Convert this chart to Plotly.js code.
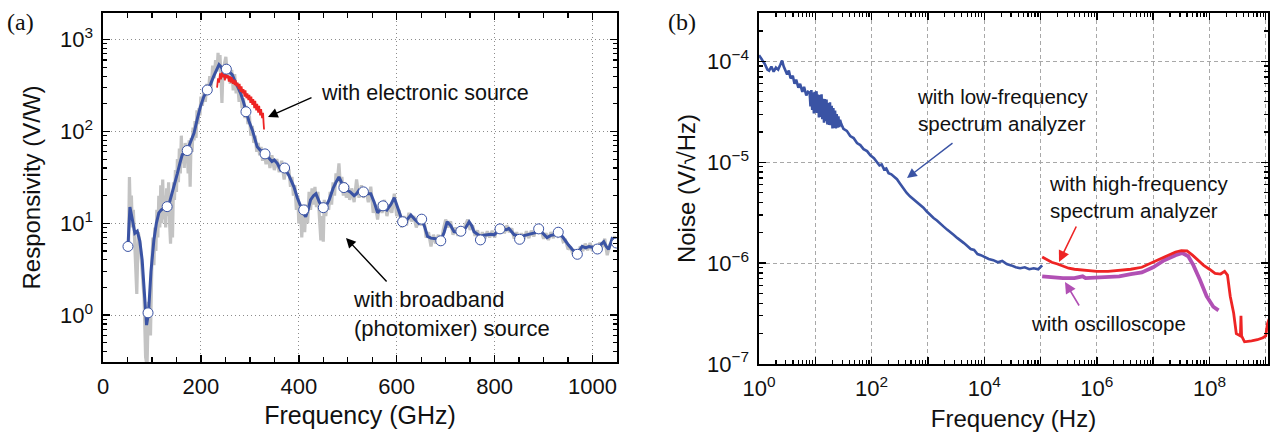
<!DOCTYPE html>
<html>
<head>
<meta charset="utf-8">
<script src="https://cdn.plot.ly/plotly-3.0.1.min.js"></script>
<style>html,body{margin:0;padding:0;background:#fff;}#chart{width:1274px;height:432px;}</style>
</head>
<body>
<div id="chart"></div>
<script>
// ---------- Panel (a): responsivity vs frequency ----------
const rawFreq = [50,52,54,56,58,60,62,65,69,72,76,80,84,87,89,90,91,93,95,97,100,102,104,106,108,110,112,114,116,118,120,122,124,126,128,130,132,134,136,138,140,142,144,146,148,150,152,154,156,158,160,162,164,166,168,170,172,174,176,178,180,182,184,186,188,190,192,194,196,198,200,203,206,209,212,215,218,221,224,227,230,233,235,237,239,241,243,245,248,251,254,257,260,263,266,269,272,275,278,281,284,287,290,293,296,299,302,305,308,311,314,317,320,323,326,329,333,337,341,345,350,355,360,365,370,375,380,383,386,389,392,395,398,400,403,406,409,412,415,418,421,424,427,430,433,436,439,442,445,448,450,452,455,458,461,464,467,470,473,476,479,482,485,488,491,494,497,500,504,508,513,518,523,528,532,537,542,547,552,556,561,565,570,575,580,585,590,595,600,605,610,615,620,625,630,635,640,645,650,655,660,665,670,675,680,685,690,695,700,705,710,715,720,725,730,735,740,745,750,755,760,765,770,775,780,785,790,795,800,805,810,815,820,825,830,835,840,845,850,855,860,865,870,875,880,885,890,895,900,905,910,915,920,925,930,935,940,945,950,955,960,965,970,975,980,985,990,995,1000,1005,1010,1015,1020,1025,1030,1035,1040,1045,1050];
const rawResp = [5.5,5,32,12,20,9,14,6,1.7,8,6,3,1.5,0.35,0.3,0.28,0.5,1.4,1.2,0.6,4,7,3.5,9,5,14,7,20,9,26,10,30,11,20,9,24,12,28,10,6,18,7,28,18,38,22,50,28,65,35,90,45,70,40,75,50,60,35,80,25,85,60,110,80,130,85,170,120,180,150,240,190,280,210,330,250,400,300,520,380,600,450,720,500,680,430,205,450,560,650,400,520,330,470,280,420,260,330,210,290,180,230,140,190,120,150,90,115,75,90,60,75,55,68,48,62,44,58,40,55,38,50,36,48,30,42,38,25,32,20,26,14,20,10,16,7,14,8,16,10,22,14,24,16,25,15,22,10,6.5,12,6.3,18,12,17,14,22,16,28,20,35,30,45,25,32,20,28,19,26,18,24,17,30,19,26,19,24,17,25,13,16,11,17,13,18,12,16,13,21,12,14,9,12,9.5,13,10.5,12,9,11,9.5,12,7,8,5.6,7.5,6,7.5,5.8,8.5,11,9,10.5,7.5,9,7.3,9,7.5,9.5,11,8.5,9.5,7.3,8.4,6.5,8,6.8,8.2,7,8.3,7,8.7,8,9.5,7.8,9.5,8,8.8,6.8,8,6.7,7.8,6.7,8.2,6.9,8.3,7.2,8.6,8,8.4,6.8,7.8,6.6,8,6.9,8.4,7.3,7.8,6.3,6.5,5.2,5.6,4.6,5.2,4.2,5.6,5,6,5.1,6.1,5,5.8,4.7,6.2,5.5,6.8,4.5,5.8,6.3,7.2,6];

const smoothFreq = [51,55,60,65,70,75,80,85,89,93,98,104,109,114,119,124,131,136,141,146,152,157,162,167,172,178,186,193,199,206,213,220,226,232,237,242,246,252,258,264,270,276,281,287,292,298,305,310,315,322,331,338,345,350,356,363,371,380,390,397,404,409,414,419,424,430,435,442,450,456,462,470,476,482,487,492,498,505,513,518,523,532,540,547,554,561,567,572,580,588,595,603,612,620,629,637,645,651,657,663,670,680,690,697,703,710,717,724,731,740,748,753,758,765,771,778,785,792,799,805,811,818,824,829,835,840,846,851,858,867,875,883,890,898,907,915,922,930,940,951,960,969,975,979,986,993,1000,1010,1016,1023,1028,1033,1040,1045,1049];
const smoothResp = [5.6,15,11,7.8,8.2,6.5,4.0,1.8,0.78,1.06,3.0,6.6,10,13,14,14.5,15.2,17,21,27,35,45,56,58,62,75,96,140,186,240,283,330,398,480,535,500,450,477,440,415,350,300,262,210,164,130,104,82,68,62,57,52,47,49,45,38,40,33,25,19,15,13,11.8,14,18,20,21,17,14.8,15.5,18,24,28,32,28,24.5,23,22,20,21,23,22,21,21,17,13,14.5,15.5,14,16,19,14,10.4,10.8,12.3,11,10,11.1,9.2,7.2,6.9,6.8,6.45,8,10.4,9.5,8.1,8.0,8.2,8.8,10.4,9.5,8.1,7.6,7.2,7.4,7.5,7.6,7.5,8.0,8.7,8.6,8.5,8.8,8.0,7.5,7.4,7.2,7.3,7.5,7.6,7.9,8.7,7.8,7.0,7.4,7.5,8.0,7.0,5.8,5.1,4.7,5.2,5.6,5.4,5.6,5.5,5.25,5.8,6.3,5.6,5.2,6.8,6.6,6.1];

const markerFreq = [51,92,131,172,213,252,292,331,371,410,450,492,532,572,612,651,690,731,771,811,851,890,930,969,1010,1049];
const markerResp = [5.6,1.06,15.2,62,283,477,164,57,40,14,14.8,24.5,22,15.5,10.4,11.1,6.45,8.2,6.6,8.7,6.7,8.7,8.0,4.6,5.25,6.1];

const elecFreq = [233,235,237,239,241,243,245,247,249,251,253,255,257,259,261,263,265,267,269,271,273,275,277,279,281,283,285,287,289,291,293,295,297,299,301,303,305,307,309,311,313,315,317,319,321,323,325,327,328,329];
const elecResp = [300,380,340,430,370,440,390,420,360,430,380,410,350,400,340,390,330,370,320,360,310,340,290,330,270,310,260,290,240,280,230,260,220,250,205,240,195,225,180,215,170,200,160,190,150,175,140,160,125,105];

const aXTickVals = [0,200,400,600,800,1000];
const aXTickText = ['0','200','400','600','800','1000'];
const aYTickVals = [1,10,100,1000];
const aYTickText = ['10<sup>0</sup>','10<sup>1</sup>','10<sup>2</sup>','10<sup>3</sup>'];

// ---------- Panel (b): noise spectrum ----------
const lfFreq = [1,1.12,1.26,1.41,1.51,1.66,1.82,2.0,2.19,2.4,2.57,2.75,2.95,3.16,3.39,3.63,3.98,4.27,4.57,5.0,5.37,5.89,6.31,6.92,7.41,7.94,8.22,8.51,8.81,9.12,9.44,9.77,10.1,10.5,10.8,11.2,11.6,12.0,12.4,12.9,13.3,13.8,14.3,14.8,15.3,15.8,16.4,17.0,17.6,18.2,18.8,19.5,20.2,20.9,21.6,22.4,23.2,24.0,24.8,25.7,26.6,27.5,28.8,31.6,36.3,41.7,47.9,55,63,72,83,95,110,126,138,151,166,182,200,224,251,282,316,363,417,479,550,631,724,832,955,1096,1259,1445,1660,1905,2188,2512,2884,3311,3802,4365,5012,5754,6607,7586,8710,10000,12000,14500,17400,20900,25100,30200,36300,43600,52500,63100,75900,91200,100000,107000];
const lfNoise = [1.15e-4,1.05e-4,9.5e-5,8.3e-5,8.1e-5,8.9e-5,7.9e-5,8.7e-5,8.3e-5,9.3e-5,1.02e-4,8.9e-5,7.9e-5,7.4e-5,8.1e-5,6.8e-5,7.2e-5,6.0e-5,6.6e-5,5.5e-5,6.0e-5,5.0e-5,5.6e-5,4.6e-5,5.0e-5,4.9e-5,3.57e-5,5.2e-5,3.3e-5,4.9e-5,3.05e-5,5.0e-5,3.1e-5,5.07e-5,3.08e-5,4.69e-5,2.78e-5,4.65e-5,2.82e-5,4.71e-5,2.67e-5,4.27e-5,2.47e-5,4.23e-5,2.56e-5,4.19e-5,2.37e-5,3.87e-5,2.35e-5,3.93e-5,2.33e-5,3.64e-5,2.16e-5,3.44e-5,2.19e-5,3.26e-5,2.17e-5,3.01e-5,2.2e-5,2.85e-5,2.23e-5,2.64e-5,2.41e-5,2.15e-5,2.05e-5,1.82e-5,1.74e-5,1.55e-5,1.48e-5,1.35e-5,1.29e-5,1.17e-5,1.10e-5,1.0e-5,9.3e-6,9.5e-6,8.5e-6,8.7e-6,7.8e-6,7.6e-6,7.2e-6,6.8e-6,6.2e-6,5.5e-6,5.0e-6,4.6e-6,4.3e-6,4.1e-6,3.8e-6,3.55e-6,3.25e-6,3.0e-6,2.8e-6,2.65e-6,2.45e-6,2.3e-6,2.15e-6,2.0e-6,1.9e-6,1.78e-6,1.66e-6,1.58e-6,1.48e-6,1.38e-6,1.35e-6,1.23e-6,1.2e-6,1.15e-6,1.10e-6,1.07e-6,1.02e-6,1.05e-6,9.8e-7,9.5e-7,9.1e-7,8.9e-7,9.1e-7,8.7e-7,8.9e-7,8.7e-7,9.1e-7,9.5e-7];

const hfFreq = [1.07e5,1.26e5,1.58e5,2.0e5,2.5e5,3.16e5,4.0e5,6.3e5,1e6,1.58e6,2.5e6,4.0e6,6.3e6,1e7,1.58e7,2.5e7,3.16e7,4.0e7,5.0e7,6.3e7,7.9e7,1e8,1.26e8,1.58e8,1.86e8,2.09e8,2.34e8,2.69e8,3.0e8,3.55e8,3.63e8,3.72e8,4.2e8,5.6e8,7.1e8,8.9e8,1.0e9,1.07e9,1.15e9];
const hfNoise = [1.15e-6,1.10e-6,1.02e-6,9.8e-7,9.3e-7,8.9e-7,8.7e-7,8.5e-7,8.3e-7,8.3e-7,8.5e-7,8.7e-7,9.1e-7,1.02e-6,1.15e-6,1.29e-6,1.33e-6,1.32e-6,1.20e-6,1.07e-6,9.5e-7,8.7e-7,7.9e-7,7.8e-7,8.3e-7,7.6e-7,4.7e-7,3.2e-7,2.0e-7,1.9e-7,3.0e-7,1.9e-7,1.66e-7,1.70e-7,1.74e-7,1.82e-7,1.9e-7,2.5e-7,2.8e-7];

const oscFreq = [1.07e5,1.58e5,2.5e5,4.0e5,5.6e5,6.3e5,1e6,1.58e6,2.5e6,4.0e6,6.3e6,1e7,1.58e7,2.5e7,3.3e7,4.2e7,5.2e7,6.8e7,8.9e7,1.17e8,1.45e8];
const oscNoise = [7.4e-7,7.2e-7,7.1e-7,7.1e-7,7.4e-7,7.1e-7,7.2e-7,7.2e-7,7.4e-7,7.8e-7,8.1e-7,9.1e-7,1.07e-6,1.20e-6,1.26e-6,1.17e-6,9.5e-7,6.8e-7,4.7e-7,3.7e-7,3.4e-7];

const bXTickVals = [1,10,100,1e3,1e4,1e5,1e6,1e7,1e8,1e9];
const bXTickText = ['10<sup>0</sup>','','10<sup>2</sup>','','10<sup>4</sup>','','10<sup>6</sup>','','10<sup>8</sup>',''];
const bYTickVals = [1e-7,1e-6,1e-5,1e-4];
const bYTickText = ['10<sup>\u22127</sup>','10<sup>\u22126</sup>','10<sup>\u22125</sup>','10<sup>\u22124</sup>'];

// ---------- helpers (tick positions only) ----------
function logMinor(e0, e1) {
  const v = [];
  for (let e = e0; e <= e1; e++) for (let m = 2; m <= 9; m++) v.push(m * Math.pow(10, e));
  return v;
}

const W = 1274, H = 432;
const px = x => x / W;
const py = y => 1 - y / H;

const FONT = 'Liberation Sans, Arial, Helvetica, sans-serif';
const BLUE = '#3a53a4';
const RED = '#ee2424';
const GREY = '#c3c3c3';
const MAG = '#b150b4';

const traces = [
  {x: rawFreq, y: rawResp, xaxis: 'x', yaxis: 'y', mode: 'lines', line: {color: GREY, width: 3.2}, hoverinfo: 'skip'},
  {x: smoothFreq, y: smoothResp, xaxis: 'x', yaxis: 'y', mode: 'lines', line: {color: BLUE, width: 3}},
  {x: elecFreq, y: elecResp, xaxis: 'x', yaxis: 'y', mode: 'lines', line: {color: RED, width: 1.8}},
  {x: markerFreq, y: markerResp, xaxis: 'x', yaxis: 'y', mode: 'markers', marker: {size: 10, color: '#ffffff', line: {color: BLUE, width: 1}}},
  {x: lfFreq, y: lfNoise, xaxis: 'x2', yaxis: 'y2', mode: 'lines', line: {color: BLUE, width: 2.6}},
  {x: oscFreq, y: oscNoise, xaxis: 'x2', yaxis: 'y2', mode: 'lines', line: {color: MAG, width: 3.8}},
  {x: hfFreq, y: hfNoise, xaxis: 'x2', yaxis: 'y2', mode: 'lines', line: {color: RED, width: 2.8}}
];

const axBase = {
  showline: true, linecolor: '#000', linewidth: 1.6, mirror: 'ticks',
  ticks: 'inside', ticklen: 7, tickwidth: 1.4, tickcolor: '#000',
  zeroline: false, automargin: false,
  tickfont: {family: FONT, size: 22, color: '#111'},
  ticklabelstandoff: 4
};

const layout = {
  width: W, height: H,
  margin: {l: 0, r: 0, t: 0, b: 0},
  paper_bgcolor: '#fff', plot_bgcolor: '#fff',
  showlegend: false,
  font: {family: FONT, color: '#111'},
  xaxis: Object.assign({}, axBase, {
    domain: [px(103), px(617)], anchor: 'y', range: [0, 1050],
    tickmode: 'array', tickvals: aXTickVals, ticktext: aXTickText,
    showgrid: true, gridcolor: '#8c8c8c', griddash: '1px,3px', gridwidth: 1,
    minor: {tickmode: 'linear', tick0: 0, dtick: 50, ticks: 'inside', ticklen: 5, tickwidth: 1.3, tickcolor: '#000', showgrid: false},
    title: {text: 'Frequency (GHz)', font: {family: FONT, size: 25, color: '#111'}, standoff: 8}
  }),
  yaxis: Object.assign({}, axBase, {
    domain: [py(362), py(13)], anchor: 'x', type: 'log', range: [-0.51, 3.29],
    tickmode: 'array', tickvals: aYTickVals, ticktext: aYTickText,
    showgrid: true, gridcolor: '#8c8c8c', griddash: '1px,3px', gridwidth: 1,
    minor: {tickmode: 'array', tickvals: logMinor(-1, 3), ticks: 'inside', ticklen: 4, tickwidth: 1.2, tickcolor: '#000', showgrid: false},
    title: {text: 'Responsivity (V/W)', font: {family: FONT, size: 24, color: '#111'}, standoff: 12}
  }),
  xaxis2: Object.assign({}, axBase, {
    domain: [px(759), px(1268)], anchor: 'y2', type: 'log', range: [0, 9.04],
    tickmode: 'array', tickvals: bXTickVals, ticktext: bXTickText,
    showgrid: true, gridcolor: '#a8a8a8', griddash: '4px,3px', gridwidth: 1,
    minor: {tickmode: 'array', tickvals: logMinor(0, 9), ticks: 'inside', ticklen: 4, tickwidth: 1.2, tickcolor: '#000', showgrid: false},
    title: {text: 'Frequency (Hz)', font: {family: FONT, size: 24, color: '#111'}, standoff: 14}
  }),
  yaxis2: Object.assign({}, axBase, {
    domain: [py(364), py(13)], anchor: 'x2', type: 'log', range: [-7, -3.52],
    tickmode: 'array', tickvals: bYTickVals, ticktext: bYTickText,
    showgrid: true, gridcolor: '#a8a8a8', griddash: '4px,3px', gridwidth: 1,
    minor: {tickmode: 'array', tickvals: logMinor(-7, -4), ticks: 'inside', ticklen: 4, tickwidth: 1.2, tickcolor: '#000', showgrid: false},
    title: {text: 'Noise (V/\u221AHz)', font: {family: FONT, size: 24, color: '#111'}, standoff: 4}
  }),
  annotations: [
    {xref: 'paper', yref: 'paper', x: px(20), y: py(22), text: '(a)', showarrow: false, xanchor: 'center', yanchor: 'middle', font: {family: 'Liberation Serif, Times New Roman, serif', size: 24, color: '#111'}},
    {xref: 'paper', yref: 'paper', x: px(682), y: py(22), text: '(b)', showarrow: false, xanchor: 'center', yanchor: 'middle', font: {family: 'Liberation Serif, Times New Roman, serif', size: 24, color: '#111'}},

    {xref: 'paper', yref: 'paper', x: px(319), y: py(93), text: 'with electronic source', showarrow: false, xanchor: 'left', yanchor: 'middle', font: {family: FONT, size: 21.5, color: '#111'}},
    {xref: 'paper', yref: 'paper', x: px(268), y: py(117), ax: 45, ay: -20, text: '', showarrow: true, arrowhead: 2, arrowsize: 1.4, arrowwidth: 1.4, arrowcolor: '#000'},

    {xref: 'paper', yref: 'paper', x: px(351), y: py(314), text: 'with broadband<br>(photomixer) source', showarrow: false, xanchor: 'left', yanchor: 'middle', align: 'left', font: {family: FONT, size: 22, color: '#111'}},
    {xref: 'paper', yref: 'paper', x: px(346), y: py(238), ax: 42, ay: 45, text: '', showarrow: true, arrowhead: 2, arrowsize: 1.4, arrowwidth: 1.4, arrowcolor: '#000'},

    {xref: 'paper', yref: 'paper', x: px(915), y: py(109.5), text: 'with low-frequency<br>spectrum analyzer', showarrow: false, xanchor: 'left', yanchor: 'middle', align: 'left', font: {family: FONT, size: 20.5, color: '#111'}},
    {xref: 'paper', yref: 'paper', x: px(907), y: py(178), ax: 47, ay: -36, text: '', showarrow: true, arrowhead: 2, arrowsize: 1.4, arrowwidth: 1.4, arrowcolor: BLUE},

    {xref: 'paper', yref: 'paper', x: px(1047), y: py(196.5), text: 'with high-frequency<br>spectrum analyzer', showarrow: false, xanchor: 'left', yanchor: 'middle', align: 'left', font: {family: FONT, size: 20.5, color: '#111'}},
    {xref: 'paper', yref: 'paper', x: px(1059), y: py(262), ax: 18, ay: -37, text: '', showarrow: true, arrowhead: 2, arrowsize: 1.4, arrowwidth: 1.6, arrowcolor: RED},

    {xref: 'paper', yref: 'paper', x: px(1029), y: py(323), text: 'with oscilloscope', showarrow: false, xanchor: 'left', yanchor: 'middle', font: {family: FONT, size: 20.5, color: '#111'}},
    {xref: 'paper', yref: 'paper', x: px(1065), y: py(282), ax: 15, ay: 25, text: '', showarrow: true, arrowhead: 2, arrowsize: 1.4, arrowwidth: 1.6, arrowcolor: MAG}
  ]
};

Plotly.newPlot('chart', traces, layout, {staticPlot: true, displayModeBar: false});
</script>
</body>
</html>
